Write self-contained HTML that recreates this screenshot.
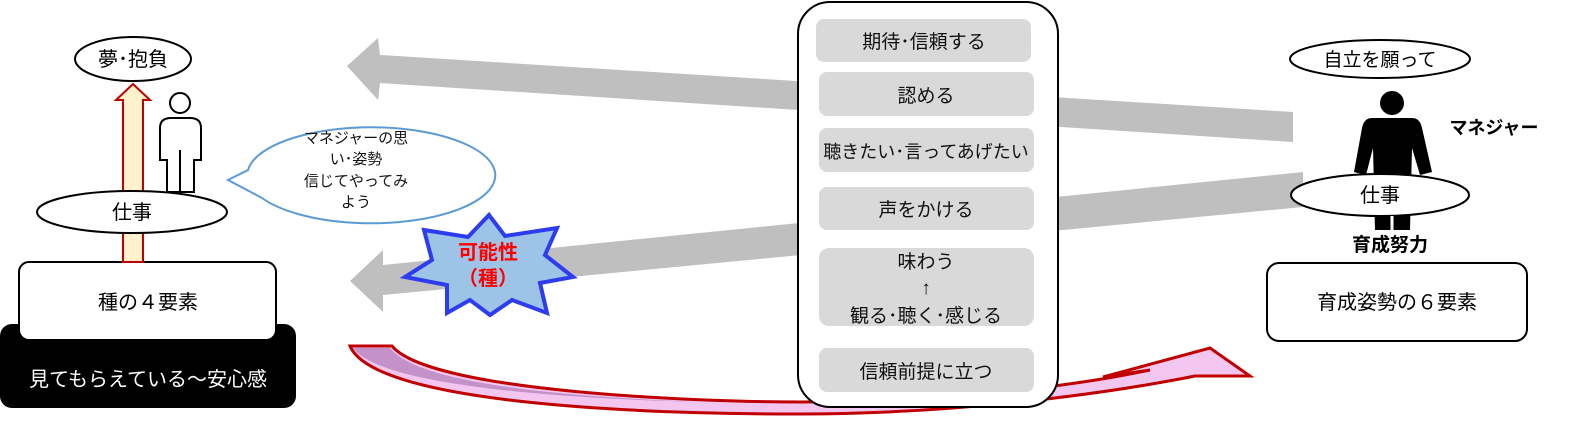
<!DOCTYPE html>
<html><head><meta charset="utf-8"><style>
body{margin:0;background:#fff;}
svg text{font-family:"Liberation Sans","Noto Sans CJK JP",sans-serif;}
</style></head><body>
<svg width="1580" height="420" viewBox="0 0 1580 420" xmlns="http://www.w3.org/2000/svg">
<!-- gray arrows -->
<polygon points="1293,112 1293,142 380,83 378,100 347,66 378,38 380,55" fill="#bfbfbf"/>
<polygon points="1303,172 1303,207 383,295 383,312 350,281 383,250 383,265" fill="#bfbfbf"/>
<!-- red curved arrow -->
<path d="M350,346 L392,346 C430,392 700,402 800,402 C950,402 1080,385 1150,370 L1103,377 L1210,348 L1250,376 L1195,376 C1100,395 950,414 800,414 C650,414 375,405 350,346 Z" fill="#f3c6f0" stroke="#c00000" stroke-width="3"/>
<path d="M353,348 L390,348 C420,388 600,398 700,402 C550,398 380,385 353,348 Z" fill="#b07ab8" opacity="0.7"/>
<!-- center box -->
<rect x="798" y="2" width="260" height="405" rx="32" fill="#fff" stroke="#000" stroke-width="2"/>
<g fill="#d9d9d9">
<rect x="816" y="19" width="215" height="43" rx="8"/>
<rect x="819" y="72" width="215" height="44" rx="8"/>
<rect x="819" y="128" width="215" height="44" rx="8"/>
<rect x="819" y="187" width="215" height="43" rx="8"/>
<rect x="819" y="248" width="215" height="78" rx="10"/>
<rect x="819" y="348" width="215" height="44" rx="8"/>
</g>
<g font-size="19" text-anchor="middle" fill="#111">
<text x="924" y="48">期待･信頼する</text>
<text x="926" y="102">認める</text>
<text x="926" y="158" font-size="18">聴きたい･言ってあげたい</text>
<text x="926" y="216">声をかける</text>
<text x="926" y="268">味わう</text>
<text x="926" y="294">↑</text>
<text x="926" y="322">観る･聴く･感じる</text>
<text x="926" y="378">信頼前提に立つ</text>
</g>
<!-- left side -->
<rect x="0" y="324" width="296" height="84" rx="12" fill="#000"/>
<text x="148" y="386" font-size="20" fill="#fff" text-anchor="middle">見てもらえている～安心感</text>
<rect x="19" y="262" width="257" height="78" rx="10" fill="#fff" stroke="#000" stroke-width="2"/>
<text x="148" y="309" font-size="20" text-anchor="middle">種の４要素</text>
<polygon points="123,262 123,100 116,100 133,84 150,100 143,100 143,262" fill="#fff2cc" stroke="#c00000" stroke-width="2"/>
<!-- outline person -->
<g fill="#fff" stroke="#000" stroke-width="2">
<circle cx="180" cy="103" r="10"/>
<path d="M167,192 L167,160 L160,160 L160,128 Q160,118 171,118 L190,118 Q201,118 201,128 L201,160 L194,160 L194,192 Z"/>
</g>
<line x1="180" y1="150" x2="180" y2="192" stroke="#000" stroke-width="2"/>
<ellipse cx="132" cy="212" rx="95" ry="21" fill="#fff" stroke="#000" stroke-width="2"/>
<text x="132" y="219" font-size="20" text-anchor="middle">仕事</text>
<ellipse cx="133" cy="59" rx="58" ry="22" fill="#fff" stroke="#000" stroke-width="2"/>
<text x="133" y="66" font-size="20" text-anchor="middle">夢･抱負</text>
<!-- speech bubble -->
<path d="M248,170 A124,48 0 1 1 262,198 L228,180 Z" fill="#fff" stroke="#5b9bd5" stroke-width="2"/>
<g font-size="15" text-anchor="middle" fill="#111">
<text x="356" y="143">マネジャーの思</text>
<text x="356" y="164">い･姿勢</text>
<text x="356" y="186">信じてやってみ</text>
<text x="356" y="207">よう</text>
</g>
<!-- star -->
<polygon points="489,215 505,236 557,228 545,255 573,277 540,283 547,313 512,300 490,315 470,300 447,313 447,285 405,277 432,260 424,230 468,237" fill="#9dc3e6" stroke="#2e3cf0" stroke-width="4" stroke-linejoin="miter"/>
<text x="488" y="259" font-size="20" font-weight="bold" fill="#ff0000" text-anchor="middle">可能性</text>
<text x="488" y="285" font-size="20" font-weight="bold" fill="#ff0000" text-anchor="middle">（種）</text>
<!-- right side -->
<ellipse cx="1380" cy="59" rx="90" ry="19" fill="#fff" stroke="#000" stroke-width="2"/>
<text x="1380" y="66" font-size="19" text-anchor="middle">自立を願って</text>
<g fill="#000">
<circle cx="1392" cy="103" r="12"/>
<path d="M1372,118 L1412,118 Q1420,118 1422,128 L1432,172 L1420,175 L1412,148 L1410,230 L1375,230 L1373,148 L1366,175 L1354,172 L1362,128 Q1364,118 1372,118 Z"/>
</g>
<ellipse cx="1380" cy="195" rx="89" ry="21" fill="#fff" stroke="#000" stroke-width="2"/>
<line x1="1392" y1="216" x2="1392" y2="230" stroke="#fff" stroke-width="3"/>
<text x="1380" y="202" font-size="20" text-anchor="middle">仕事</text>
<text x="1494" y="134" font-size="18" font-weight="bold" text-anchor="middle">マネジャー</text>
<text x="1390" y="251" font-size="19" font-weight="bold" text-anchor="middle">育成努力</text>
<rect x="1267" y="263" width="260" height="78" rx="12" fill="#fff" stroke="#000" stroke-width="2"/>
<text x="1397" y="309" font-size="20" text-anchor="middle">育成姿勢の６要素</text>
</svg>
</body></html>
